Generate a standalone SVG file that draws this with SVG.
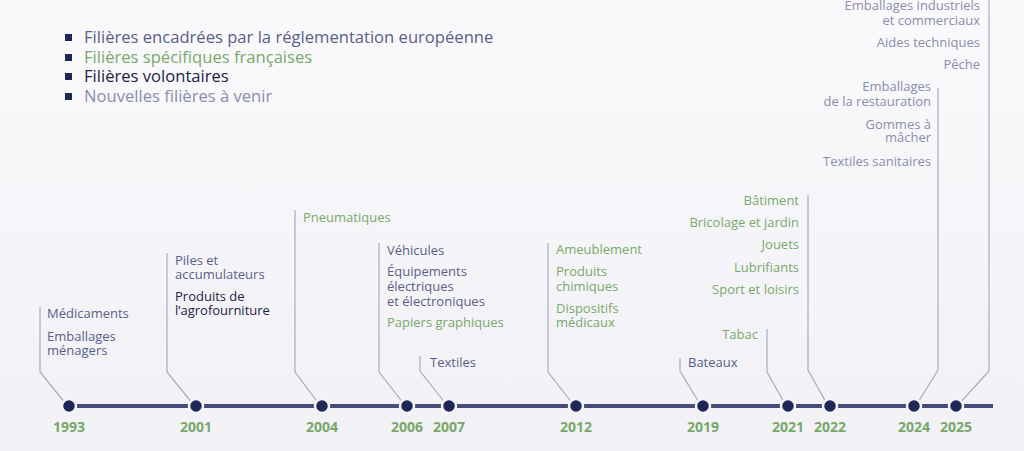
<svg xmlns="http://www.w3.org/2000/svg" width="1024" height="451" viewBox="0 0 1024 451">
<defs>
<linearGradient id="bg" x1="0" y1="0" x2="0" y2="1">
<stop offset="0" stop-color="#fafafc"/>
<stop offset="1" stop-color="#f1f1f6"/>
</linearGradient>
</defs>
<style>
text{font-family:"Open Sans","Liberation Sans",sans-serif;font-size:13px}
.eu{fill:#5a5e8c}
.fr{fill:#79a96a}
.vo{fill:#1c2248}
.fu{fill:#8a8daf}
.lg{font-size:16.6px}
.yr{font-size:14px;font-weight:700;fill:#79a96a;text-anchor:middle}
.r{text-anchor:end}
.c{fill:none;stroke:#a9abc3;stroke-width:1.2}
.dot{fill:#1f2757;stroke:#f4f4f8;stroke-width:2.5}
</style>
<rect width="1024" height="451" fill="url(#bg)"/>
<g id="legend">
<rect x="65" y="34" width="7" height="7" fill="#1f2757"/>
<rect x="65" y="54" width="7" height="7" fill="#1f2757"/>
<rect x="65" y="73" width="7" height="7" fill="#1f2757"/>
<rect x="65" y="93" width="7" height="7" fill="#1f2757"/>
<text x="84" y="43" class="lg eu">Filières encadrées par la réglementation européenne</text>
<text x="84" y="63" class="lg fr">Filières spécifiques françaises</text>
<text x="84" y="82" class="lg vo">Filières volontaires</text>
<text x="84" y="102" class="lg fu">Nouvelles filières à venir</text>
</g>
<g id="connectors">
<polyline class="c" points="40,307 40,372 66,404"/>
<polyline class="c" points="167,253 167,372 193,404"/>
<polyline class="c" points="295,210 295,372 319,404"/>
<polyline class="c" points="379,243 379,372 404,404"/>
<polyline class="c" points="420,356 420,371 446,404"/>
<polyline class="c" points="548,243 548,372 573,404"/>
<polyline class="c" points="680,358 680,371 700,404"/>
<polyline class="c" points="767,329 767,372 785,404"/>
<polyline class="c" points="808,195 808,370 827,404"/>
<polyline class="c" points="938,88 938,370 917,404"/>
<polyline class="c" points="989,0 989,371 959,404"/>
</g>
<g id="timeline">
<line x1="69" y1="406" x2="993" y2="406" stroke="#474c78" stroke-width="4"/>
</g>
<g id="y1993">
<circle class="dot" cx="69" cy="406" r="7"/>
<text class="yr" x="69" y="432">1993</text>
<text class="eu" x="47" y="318">Médicaments</text>
<text class="eu" x="47" y="341">Emballages</text>
<text class="eu" x="47" y="355">ménagers</text>
</g>
<g id="y2001">
<circle class="dot" cx="196" cy="406" r="7"/>
<text class="yr" x="196" y="432">2001</text>
<text class="eu" x="175" y="265">Piles et</text>
<text class="eu" x="175" y="279">accumulateurs</text>
<text class="vo" x="175" y="301">Produits de</text>
<text class="vo" x="175" y="315">l’agrofourniture</text>
</g>
<g id="y2004">
<circle class="dot" cx="322" cy="406" r="7"/>
<text class="yr" x="322" y="432">2004</text>
<text class="fr" x="303" y="222">Pneumatiques</text>
</g>
<g id="y2006">
<circle class="dot" cx="407" cy="406" r="7"/>
<text class="yr" x="407" y="432">2006</text>
<text class="eu" x="387" y="255">Véhicules</text>
<text class="eu" x="387" y="276">Équipements</text>
<text class="eu" x="387" y="291">électriques</text>
<text class="eu" x="387" y="306">et électroniques</text>
<text class="fr" x="387" y="327">Papiers graphiques</text>
</g>
<g id="y2007">
<circle class="dot" cx="449" cy="406" r="7"/>
<text class="yr" x="449" y="432">2007</text>
<text class="eu" x="430" y="367">Textiles</text>
</g>
<g id="y2012">
<circle class="dot" cx="576" cy="406" r="7"/>
<text class="yr" x="576" y="432">2012</text>
<text class="fr" x="556" y="254">Ameublement</text>
<text class="fr" x="556" y="276">Produits</text>
<text class="fr" x="556" y="291">chimiques</text>
<text class="fr" x="556" y="313">Dispositifs</text>
<text class="fr" x="556" y="327">médicaux</text>
</g>
<g id="y2019">
<circle class="dot" cx="703" cy="406" r="7"/>
<text class="yr" x="703" y="432">2019</text>
<text class="eu" x="688" y="367">Bateaux</text>
</g>
<g id="y2021">
<circle class="dot" cx="788" cy="406" r="7"/>
<text class="yr" x="788" y="432">2021</text>
<text class="fr r" x="758" y="339">Tabac</text>
</g>
<g id="y2022">
<circle class="dot" cx="830" cy="406" r="7"/>
<text class="yr" x="830" y="432">2022</text>
<text class="fr r" x="799" y="205">Bâtiment</text>
<text class="fr r" x="799" y="227">Bricolage et jardin</text>
<text class="fr r" x="799" y="249">Jouets</text>
<text class="fr r" x="799" y="272">Lubrifiants</text>
<text class="fr r" x="799" y="294">Sport et loisirs</text>
</g>
<g id="y2024">
<circle class="dot" cx="914" cy="406" r="7"/>
<text class="yr" x="914" y="432">2024</text>
<text class="fu r" x="931" y="91">Emballages</text>
<text class="fu r" x="931" y="106">de la restauration</text>
<text class="fu r" x="931" y="129">Gommes à</text>
<text class="fu r" x="931" y="142">mâcher</text>
<text class="fu r" x="931" y="166">Textiles sanitaires</text>
</g>
<g id="y2025">
<circle class="dot" cx="956" cy="406" r="7"/>
<text class="yr" x="956" y="432">2025</text>
<text class="fu r" x="980" y="10">Emballages industriels</text>
<text class="fu r" x="980" y="25">et commerciaux</text>
<text class="fu r" x="980" y="47">Aides techniques</text>
<text class="fu r" x="980" y="69">Pêche</text>
</g>
</svg>
